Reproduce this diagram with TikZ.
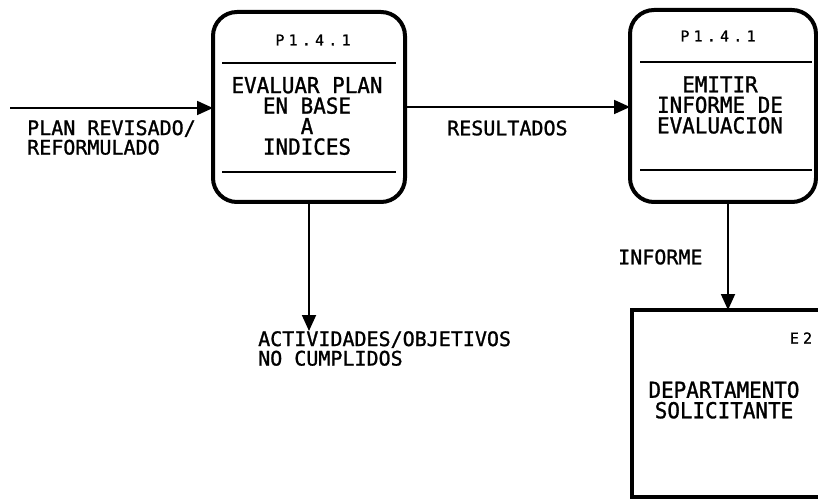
\documentclass[tikz,border=0pt]{standalone}
\usepackage{fontspec}
\newfontfamily\plotfont{DejaVu Sans Mono}[FakeBold=1.2]
\newfontfamily\plotbox{DejaVu Sans Mono}[FakeBold=1.2,FakeStretch=0.95]
\newfontfamily\plotsmall{DejaVu Sans Mono}[LetterSpace=28,FakeBold=1]
\usetikzlibrary{arrows.meta,calc}
\tikzset{
  x=1pt, y=-1pt,
  procbox/.style={draw, line width=4pt, rounded corners=24pt, inner sep=0pt, outer sep=0pt},
  storebox/.style={inner sep=0pt, outer sep=0pt},
  divider/.style={line width=2pt},
  arr/.style={line width=1.8pt, -{Triangle[length=16pt,width=14pt]}},
  lbl/.style={inner sep=0pt, align=left, font=\plotfont\fontsize{20}{19.5}\selectfont},
  boxtxt/.style={inner sep=0pt, align=center, font=\plotbox\fontsize{22}{20.5}\selectfont},
  idtxt/.style={inner sep=0pt, font=\plotsmall\fontsize{15}{15}\selectfont},
}
\begin{document}
\begin{tikzpicture}
\useasboundingbox (0,0) rectangle (818,502);
% process boxes
\node[procbox, minimum width=192pt, minimum height=190pt] (b1) at (309,107) {};
\node[procbox, minimum width=186pt, minimum height=192pt] (b2) at (723,106) {};
% external entity (cut at the right edge)
\node[storebox, minimum width=192pt, minimum height=187pt] (b3) at (728,403.5) {};
\draw[line width=4pt] (b3.north east) -- (b3.north west) -- (b3.south west) -- (b3.south east);

% dividers
\draw[divider] ($(b1.north west)+(9,51)$) -- ($(b1.north east)+(-9,51)$);
\draw[divider] ($(b1.north west)+(9,160)$) -- ($(b1.north east)+(-9,160)$);
\draw[divider] ($(b2.north west)+(10,52)$) -- ($(b2.north east)+(-4,52)$);
\draw[divider] ($(b2.north west)+(10,160)$) -- ($(b2.north east)+(-4,160)$);

% box texts
\node[idtxt] (b1id) at (313,40) {P1.4.1};
\node[boxtxt] (b1t) at (307,116) {EVALUAR PLAN\\EN BASE\\A\\INDICES};
\node[idtxt] (b2id) at (718,36) {P1.4.1};
\node[boxtxt] (b2t) at (720,105) {EMITIR\\INFORME DE\\EVALUACION};
\node[idtxt] (b3id) at (801,338) {E2};
\node[boxtxt] (b3t) at (724,400) {DEPARTAMENTO\\SOLICITANTE};

% connectors
\coordinate (in) at (10,108);
\coordinate (out) at (309,331);
\draw[arr] (in) -- (in -| b1.west);
\draw[arr] (b1.east) -- (b1.east -| b2.west);
\draw[arr] (b1.south) -- (out);
\draw[arr] (b3.north |- b2.south) -- (b3.north);

% labels
\node[lbl, anchor=north west] (l1) at (27,120) {PLAN REVISADO/\\REFORMULADO};
\node[lbl, anchor=west] (l2) at (447,128) {RESULTADOS};
\node[lbl, anchor=north west] (l3) at (258,331) {ACTIVIDADES/OBJETIVOS\\NO CUMPLIDOS};
\node[lbl, anchor=west] (l4) at (618,257) {INFORME};
\end{tikzpicture}
\end{document}
